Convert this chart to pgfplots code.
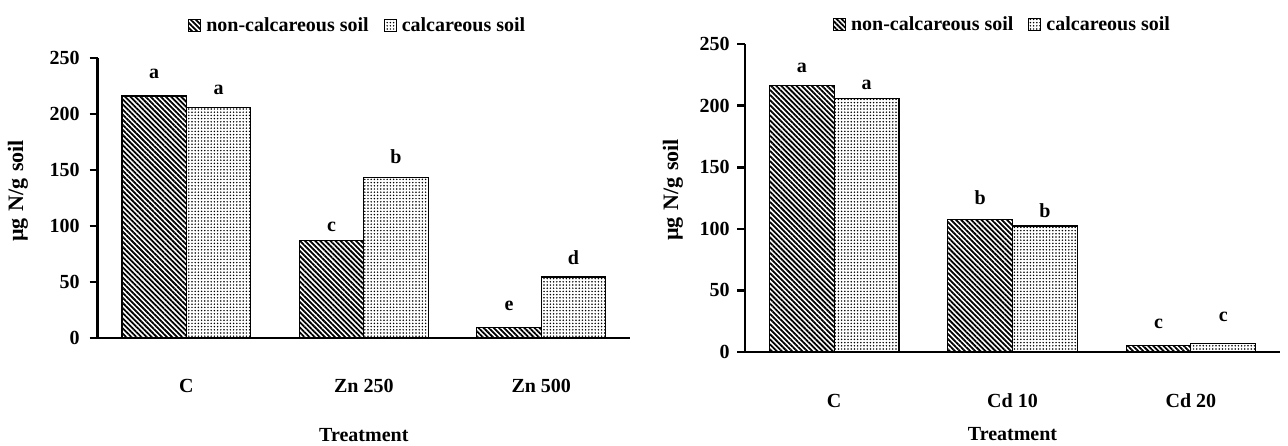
\documentclass[border=0pt]{standalone}
\usepackage{fontspec}
\setmainfont{Liberation Serif}
\usepackage{pgfplots}
\pgfplotsset{compat=1.18}
\usepackage{pgfplotstable}
\usetikzlibrary{patterns.meta}

\pgfplotstableread{
x y lab off
0 216 a 9
1 87 c 4.5
2 9.5 e 8.5
}\leftnon
\pgfplotstableread{
x y lab off
0 205.5 a 6.5
1 143.5 b 7
2 54.5 d 6
}\leftcal
\pgfplotstableread{
x y lab off
0 216 a 6.5
1 107.7 b 7.5
2 5.5 c 8.5
}\rightnon
\pgfplotstableread{
x y lab off
0 205.5 a 4.5
1 102.3 b 4
2 7 c 11
}\rightcal

\newcommand{\tf}{\fontsize{10}{12}\selectfont\bfseries}
\pgfplotsset{
  soilaxis/.style={
    scale only axis, ybar,
    ymin=0, ymax=250, xmin=-0.5, xmax=2.5,
    ytick={0,50,...,250}, xtick={0,1,2},
    axis x line*=bottom, axis y line*=left,
    axis line style={line width=1.3pt, black},
    tick align=outside, major tick length=4pt,
    ytick style={line width=1.3pt, black},
    xtick style={draw=none},
    tick label style={font=\tf},
    /pgf/number format/assume math mode=true,
    yticklabel style={anchor=east, inner sep=0pt},
    xticklabel style={anchor=base, inner sep=0pt},
    bar width=0.363,
    nodes near coords, point meta=explicit symbolic,
    visualization depends on={\thisrow{off} \as \myoff},
    every node near coord/.append style={anchor=base, inner sep=0pt, yshift=\myoff pt, font=\tf},
    xlabel={Treatment},
    ylabel={µg\hspace{0.3em}N/g\hspace{0.3em}soil},
    xlabel style={font=\tf, anchor=base, inner sep=0pt},
    ylabel style={font=\fontsize{11}{12}\selectfont\bfseries, anchor=center, inner sep=0pt},
    legend image code/.code={\draw[##1, line width=0.5pt] (0pt,-3pt) rectangle (6pt,3pt);},
    legend style={draw=none, fill=none, legend columns=-1, anchor=center, inner sep=0pt,
      font=\tf, nodes={inner sep=1pt},
      /tikz/every odd column/.append style={column sep=1.5pt},
      /tikz/every even column/.append style={column sep=6.5pt}},
  },
  nonbar/.style={draw=black, line width=0.6pt, bar shift=-0.1815,
    pattern={Lines[angle=-45,distance=1.8pt,line width=0.9pt]}},
  calbar/.style={draw=black, line width=0.6pt, bar shift=0.1815,
    pattern={Dots[distance=1.6pt,radius=0.42pt]}},
}

\begin{document}
\begin{tikzpicture}
\useasboundingbox (0,0) rectangle (644pt,222.5pt);
\begin{axis}[soilaxis,
  at={(48.8pt,53.5pt)}, anchor=south west,
  width=266.2pt, height=140pt,
  xticklabels={C, Zn 250, Zn 500},
  xticklabel style={yshift=-23.25pt},
  yticklabel style={xshift=-4.8pt},
  xlabel style={at={(0.5,-0.368)}},
  ylabel style={at={(-0.1495,0.525)}},
  legend style={at={(0.5,1)}, yshift=16pt, xshift=-3pt},
]
\addplot[nonbar] table[x=x, y=y, meta=lab] {\leftnon};
\addplot[calbar] table[x=x, y=y, meta=lab] {\leftcal};
\legend{non-calcareous soil, calcareous soil}
\end{axis}
\begin{axis}[soilaxis,
  at={(372.5pt,46.5pt)}, anchor=south west,
  width=267.5pt, height=154pt,
  xticklabels={C, Cd 10, Cd 20},
  xticklabel style={yshift=-23.75pt},
  yticklabel style={xshift=-3.5pt},
  xlabel style={at={(0.5,-0.2875)}},
  ylabel style={at={(-0.1346,0.526)}},
  legend style={at={(0.5,1)}, yshift=9.5pt, xshift=-5pt},
]
\addplot[nonbar] table[x=x, y=y, meta=lab] {\rightnon};
\addplot[calbar] table[x=x, y=y, meta=lab] {\rightcal};
\legend{non-calcareous soil, calcareous soil}
\end{axis}
\end{tikzpicture}
\end{document}
